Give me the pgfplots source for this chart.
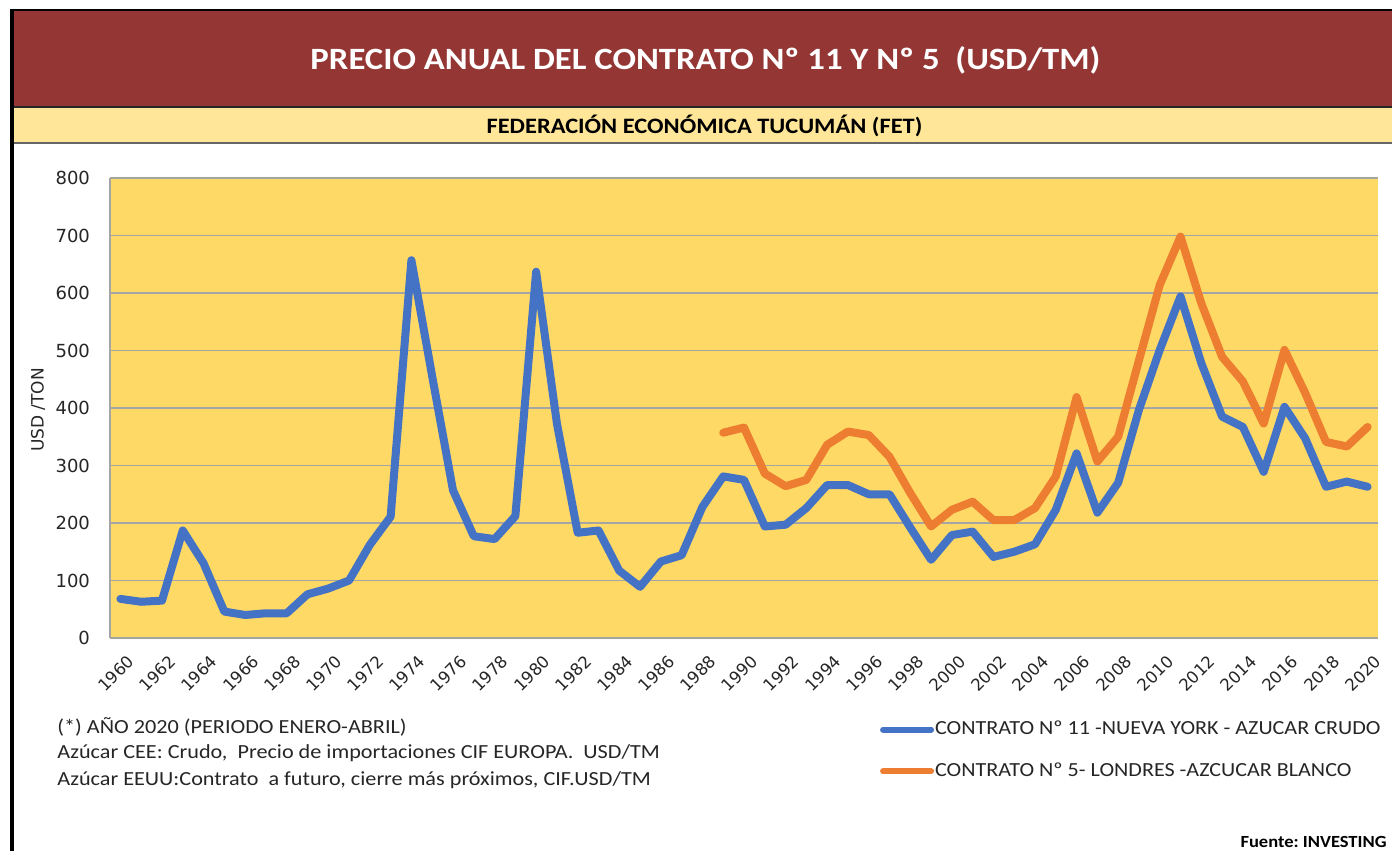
\documentclass[border=0pt]{standalone}
\usepackage{pgfplots}
\pgfplotsset{compat=1.18}
\usepackage{graphicx}
\usepackage{fontspec}
\setmainfont{Carlito}
\newfontfamily\dejavu{DejaVu Sans}
\definecolor{titlered}{HTML}{943634}
\definecolor{subyellow}{HTML}{FFE699}
\definecolor{plotgold}{HTML}{FFD966}
\definecolor{sblue}{HTML}{4472C4}
\definecolor{sorange}{HTML}{ED7D31}
\definecolor{gridgray}{HTML}{A5A5A5}
\definecolor{txt}{HTML}{262626}

\pgfplotstableread{
year val
1960 68
1961 63
1962 65
1963 187
1964 130
1965 46
1966 40
1967 43
1968 43
1969 76
1970 86
1971 100
1972 162
1973 211
1974 657
1975 455
1976 257
1977 177
1978 172
1979 212
1980 637
1981 373
1982 183
1983 187
1984 117
1985 89
1986 133
1987 144
1988 228
1989 281
1990 275
1991 194
1992 197
1993 226
1994 266
1995 266
1996 250
1997 250
1998 192
1999 136
2000 179
2001 185
2002 141
2003 150
2004 163
2005 223
2006 321
2007 218
2008 270
2009 397
2010 501
2011 594
2012 478
2013 385
2014 367
2015 289
2016 402
2017 347
2018 263
2019 272
2020 263
}\nyork

\pgfplotstableread{
year val
1989 357
1990 366
1991 286
1992 264
1993 275
1994 336
1995 359
1996 353
1997 315
1998 252
1999 194
2000 223
2001 237
2002 205
2003 205
2004 226
2005 281
2006 419
2007 307
2008 350
2009 483
2010 614
2011 698
2012 582
2013 489
2014 446
2015 373
2016 501
2017 426
2018 341
2019 333
2020 367
}\londres

\begin{document}
\begin{tikzpicture}
\path[use as bounding box, fill=white] (0,0) rectangle (696pt,425.5pt);
% title bar
\fill[titlered] (5pt,372pt) rectangle (696pt,420.5pt);
\draw[black, line width=1pt] (5pt,420.5pt) -- (696pt,420.5pt);
\draw[black!85, line width=0.8pt] (5pt,372pt) -- (696pt,372pt);
% subtitle bar
\fill[subyellow] (5pt,354pt) rectangle (696pt,371.5pt);
\draw[black!60, line width=0.8pt] (5pt,354pt) -- (696pt,354pt);
% left frame line
\fill[black] (5pt,0pt) rectangle (7pt,421pt);

\node[text=white, xscale=1.12, font=\bfseries\fontsize{15.5}{18}\selectfont] at (352.75pt,395.5pt) {PRECIO ANUAL DEL CONTRATO Nº 11 Y Nº 5\ \ (USD/TM)};
\node[text=black, xscale=1.11, font=\bfseries\fontsize{11}{12}\selectfont] at (352.25pt,362.5pt) {FEDERACIÓN ECONÓMICA TUCUMÁN (FET)};

\node[rotate=90, text=txt, font=\dejavu\fontsize{8.5}{10}\selectfont] at (19pt,220.5pt) {USD /TON};

\begin{axis}[
  at={(55pt,106.5pt)}, anchor=south west,
  scale only axis, width=634pt, height=230pt,
  xmin=1959.5, xmax=2020.5, ymin=0, ymax=800,
  axis x line*=bottom, axis y line*=left,
  xtick={1960,1962,...,2020}, ytick={0,100,...,800},
  /pgf/number format/assume math mode=true,
  /pgf/number format/1000 sep={},
  major tick length=0pt,
  ymajorgrids, grid style={gridgray, line width=0.7pt},
  axis line style={gridgray, line width=0.7pt},
  axis background/.style={fill=plotgold},
  yticklabel style={font=\dejavu\fontsize{9}{10}\selectfont, text=txt, xshift=-6.5pt},
  xticklabel style={font=\dejavu\fontsize{8.3}{9}\selectfont, text=txt, rotate=45, anchor=east, yshift=-11pt, xshift=0pt},
  legend style={at={(0.607,-0.178)}, anchor=north west, draw=none, fill=none,
    font=\fontsize{10}{11}\selectfont, text=txt, row sep=11.5pt, inner sep=0pt,
    nodes={inner sep=0.5pt}},
  legend cell align=left,
  legend image code/.code={\draw[#1, line width=3pt, line cap=round] (0pt,0pt) -- (24pt,0pt);},
]
\addplot[sblue, line width=4pt, line join=round, line cap=round] table[x=year, y=val] {\nyork};
\addlegendentry{\scalebox{1.105}[1]{CONTRATO Nº 11 -NUEVA YORK - AZUCAR CRUDO}}
\addplot[sorange, line width=4pt, line join=round, line cap=round] table[x=year, y=val] {\londres};
\addlegendentry{\scalebox{1.105}[1]{CONTRATO Nº 5- LONDRES -AZCUCAR BLANCO}}
\end{axis}

\begin{scope}[every node/.style={anchor=west, text=txt, inner sep=0pt, xscale=1.11, font=\fontsize{10}{11}\selectfont}]
\node at (28.5pt,62pt) {(*) AÑO 2020 (PERIODO ENERO-ABRIL)};
\node at (28.5pt,49pt) {Azúcar CEE: Crudo,\ \ Precio de importaciones CIF EUROPA.\ \ USD/TM};
\node at (28.5pt,35.5pt) {Azúcar EEUU:Contrato\ \ a futuro, cierre más próximos, CIF.USD/TM};
\end{scope}
\node[anchor=east, inner sep=0pt, xscale=1.09, text=black, font=\bfseries\fontsize{8.5}{9}\selectfont] at (693.5pt,4.5pt) {Fuente:\ INVESTING};
\end{tikzpicture}
\end{document}
